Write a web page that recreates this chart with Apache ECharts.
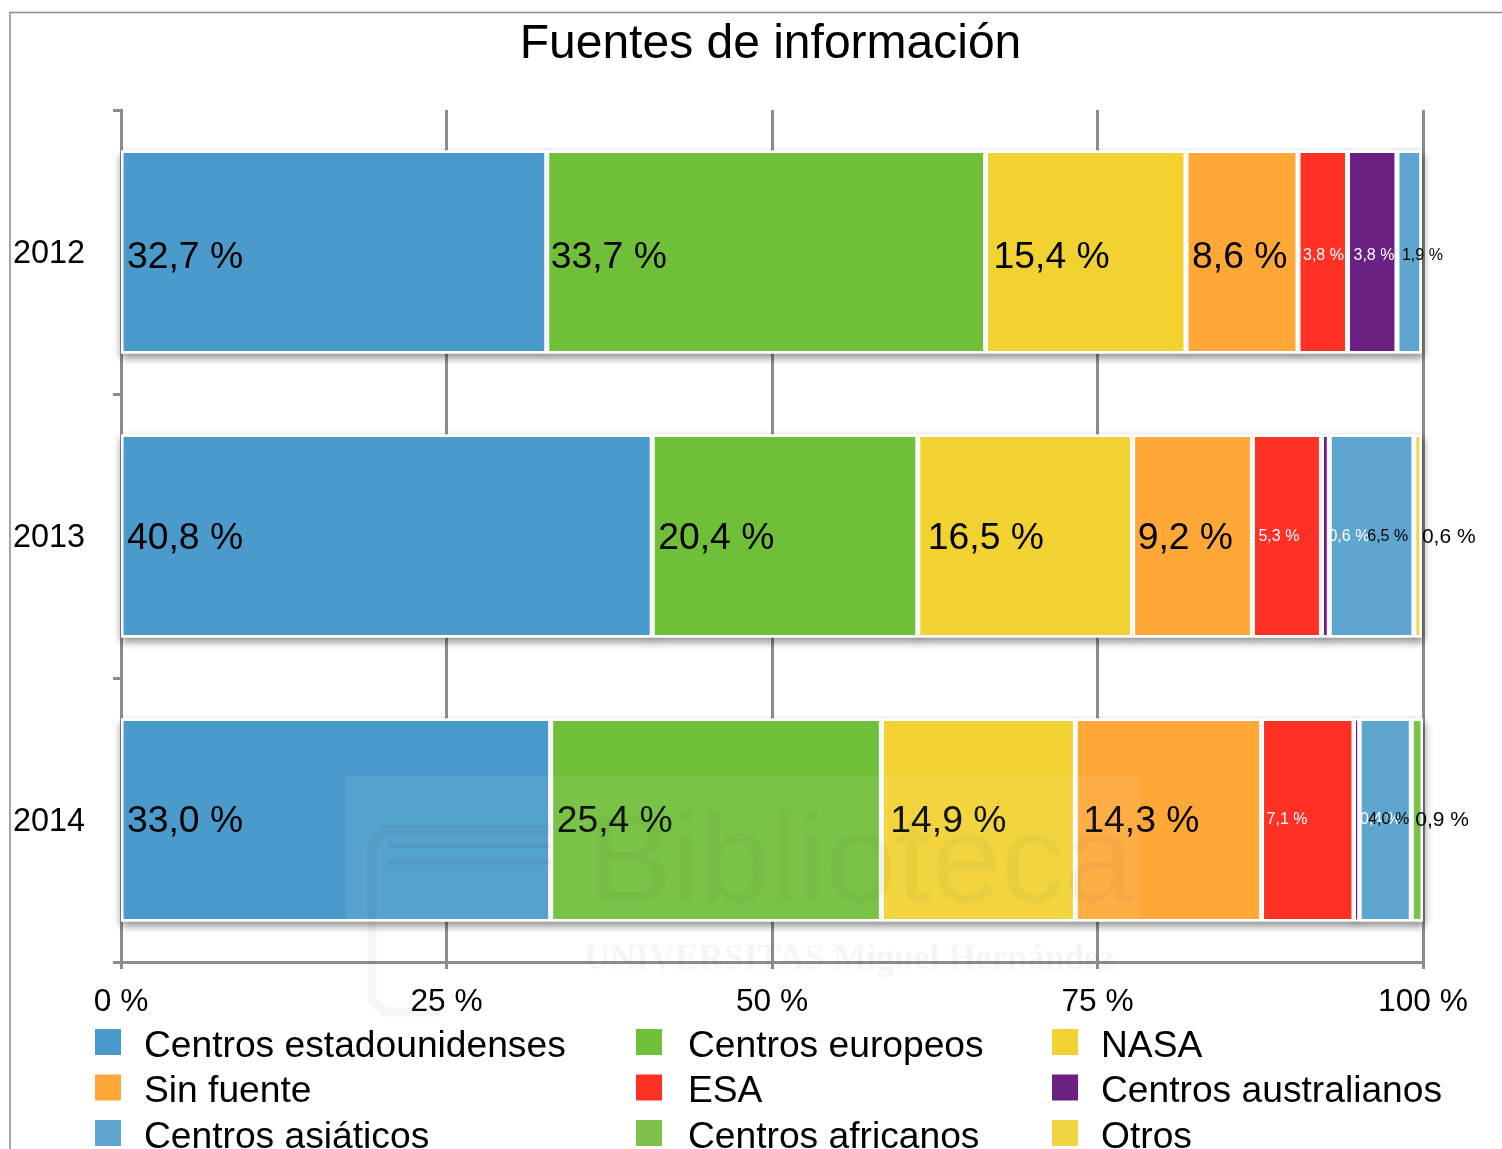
<!DOCTYPE html>
<html>
<head>
<meta charset="utf-8">
<title>Fuentes de información</title>
<script src="https://cdn.jsdelivr.net/npm/echarts@6/dist/echarts.min.js"></script>
<style>
  html, body { margin: 0; padding: 0; background: #fff; }
  #chart { width: 1502px; height: 1149px; }
</style>
</head>
<body>
<div id="chart"></div>
<script>
const years = ['2012', '2013', '2014'];
const xTicks = [0, 25, 50, 75, 100];

const seriesNames = [
  'Centros estadounidenses', 'Centros europeos', 'NASA',
  'Sin fuente', 'ESA', 'Centros australianos',
  'Centros asiáticos', 'Centros africanos', 'Otros'
];

// values, one entry per year
const estadounidenses = [32.7, 40.8, 33.0];
const europeos = [33.7, 20.4, 25.4];
const nasa = [15.4, 16.5, 14.9];
const sinFuente = [8.6, 9.2, 14.3];
const esa = [3.8, 5.3, 7.1];
const australianos = [3.8, 0.6, 0.4];
const asiaticos = [1.9, 6.5, 4.0];
const africanos = [null, null, 0.9];
const otros = [null, 0.6, null];

const seriesValues = [estadounidenses, europeos, nasa, sinFuente, esa, australianos, asiaticos, africanos, otros];
const seriesColors = ['#4a9bcb', '#6fc038', '#f2d230', '#ffa838', '#ff3024', '#6b2181', '#5ea6d0', '#7dc04a', '#f0d440'];

// label look, same shape as seriesValues
const labelSizes = [
  [37.3, 37.3, 37.3], [37.3, 37.3, 37.3], [37.3, 37.3, 37.3], [37.3, 37.3, 37.3],
  [16, 16, 16], [16, 16, 16], [16, 16, 16], [16, 16, 21], [16, 21, 16]
];
const labelInsets = [
  [6, 6, 6], [4, 6, 6], [8, 10, 9], [6, 5, 8],
  [5, 6, 5], [6, 7, 6], [5, 38, 9], [4, 4, 4], [4, 8, 4]
];
const labelColors = ['#000', '#000', '#000', '#000', '#fff', '#fff', '#000', '#000', '#000'];
// vertical nudge per year, big and small labels
const bigLabelShift = [6, 3, 2];
const smallLabelShift = [4, 1, 0];

const font = '"Liberation Sans", Arial, sans-serif';
const axisGrey = '#8c8c8c';

const fmtPct = (v) => v.toFixed(1).replace('.', ',') + ' %';

// white twin of each bar carries the drop shadow, so the coloured fill stays flat
const shadowSeries = seriesValues.map((values, s) => ({
  name: 'sombra' + s,
  type: 'bar',
  stack: 'sombra',
  barWidth: 203,
  barGap: '-100%',
  silent: true,
  z: 1,
  itemStyle: {
    color: '#fff',
    borderColor: '#fff',
    borderWidth: 2.5,
    shadowColor: 'rgba(0,0,0,0.45)',
    shadowBlur: 8,
    shadowOffsetX: 1,
    shadowOffsetY: 4
  },
  data: values
}));

const series = seriesNames.map((name, s) => ({
  name: name,
  type: 'bar',
  stack: 'total',
  barWidth: 203,
  barGap: '-100%',
  z: 2,
  itemStyle: {
    color: seriesColors[s],
    borderColor: '#fff',
    borderWidth: 2.5
  },
  label: {
    show: true,
    position: 'insideLeft',
    fontFamily: font,
    color: labelColors[s],
    formatter: (p) => fmtPct(p.value)
  },
  data: seriesValues[s].map((v, y) => ({
    value: v,
    // thin slices would vanish under a full border
    itemStyle: { borderWidth: v !== null && v < 0.5 ? 2 : 2.5 },
    label: {
      show: v !== null,
      fontSize: labelSizes[s][y],
      distance: labelInsets[s][y],
      offset: [0, labelSizes[s][y] > 30 ? bigLabelShift[y] : smallLabelShift[y]]
    }
  }))
}));

const legendColumn = (left, textGap, names) => ({
  orient: 'vertical',
  left: left,
  top: 1028,
  height: 300,
  padding: 0,
  itemWidth: 26,
  itemHeight: 26,
  itemGap: 8.5,
  icon: 'rect',
  selectedMode: false,
  itemStyle: { borderWidth: 0, shadowBlur: 0, shadowOffsetY: 0 },
  formatter: '{t|{name}}',
  textStyle: {
    rich: {
      t: { fontFamily: font, fontSize: 37.2, color: '#000', padding: [9, 0, 0, textGap] }
    }
  },
  data: names
});

const option = {
  animation: false,
  backgroundColor: '#fff',
  title: {
    text: 'Fuentes de información',
    left: 765.5,
    top: 16,
    textAlign: 'center',
    textStyle: { fontFamily: font, fontSize: 48, fontWeight: 'normal', color: '#000' }
  },
  legend: [
    legendColumn(95, 18, [seriesNames[0], seriesNames[3], seriesNames[6]]),
    legendColumn(636, 21, [seriesNames[1], seriesNames[4], seriesNames[7]]),
    legendColumn(1052, 18, [seriesNames[2], seriesNames[5], seriesNames[8]])
  ],
  grid: { left: 121, right: 79, top: 110, bottom: 187 },
  xAxis: {
    type: 'value',
    min: xTicks[0],
    max: xTicks[xTicks.length - 1],
    interval: 25,
    axisLine: { show: true, lineStyle: { color: axisGrey, width: 3 } },
    axisTick: { show: true, length: 7, lineStyle: { color: axisGrey, width: 3 } },
    splitLine: { show: true, lineStyle: { color: axisGrey, width: 3 } },
    axisLabel: {
      margin: 24,
      fontFamily: font,
      fontSize: 31.7,
      color: '#000',
      formatter: '{value} %'
    }
  },
  yAxis: {
    type: 'category',
    inverse: true,
    data: years,
    axisLine: { show: true, lineStyle: { color: axisGrey, width: 3 } },
    axisTick: { show: true, length: 8, lineStyle: { color: axisGrey, width: 3 } },
    axisLabel: {
      margin: 36,
      formatter: '{t|{value}}',
      rich: {
        t: { fontFamily: font, fontSize: 32.4, color: '#000', padding: [5, 0, 0, 0] }
      }
    }
  },
  graphic: [
    // page frame
    {
      type: 'polyline',
      silent: true,
      shape: { points: [[10, 1149], [10, 12.5], [1502, 12.5]] },
      style: { stroke: '#8c8c8c', lineWidth: 1.5, fill: null }
    },
    // library watermark stamped over the scan
    {
      type: 'rect',
      silent: true,
      z: 100,
      shape: { x: 346, y: 776, width: 794, height: 143 },
      style: { fill: 'rgba(255,255,255,0.07)' }
    },
    {
      type: 'text',
      silent: true,
      z: 101,
      style: {
        x: 588, y: 804, text: 'Biblioteca',
        font: '126px ' + font,
        fill: 'rgba(60,60,40,0.05)'
      }
    },
    {
      type: 'text',
      silent: true,
      z: 101,
      style: {
        x: 584, y: 942, text: 'UNIVERSITAS Miguel Hernández',
        font: 'bold 35.5px "Liberation Serif", serif',
        fill: 'rgba(60,60,60,0.05)'
      }
    },
    {
      type: 'polyline',
      silent: true,
      z: 101,
      shape: { points: [[550, 830], [385, 830], [372, 845], [372, 1000], [385, 1012], [440, 1012]] },
      style: { stroke: 'rgba(60,60,60,0.05)', lineWidth: 9, fill: null }
    },
    {
      type: 'polyline',
      silent: true,
      z: 101,
      shape: { points: [[388, 845], [550, 845]] },
      style: { stroke: 'rgba(40,60,90,0.08)', lineWidth: 6, fill: null }
    },
    {
      type: 'polyline',
      silent: true,
      z: 101,
      shape: { points: [[388, 862], [550, 862]] },
      style: { stroke: 'rgba(40,60,90,0.08)', lineWidth: 6, fill: null }
    }
  ],
  series: shadowSeries.concat(series)
};

const myChart = echarts.init(document.getElementById('chart'));
myChart.setOption(option);
</script>
</body>
</html>
